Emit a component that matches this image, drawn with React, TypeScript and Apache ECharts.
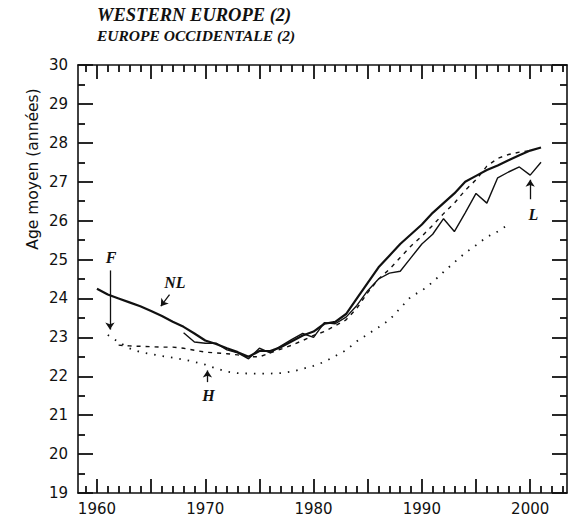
import React, { useEffect, useRef } from "react";
import * as echarts from "echarts";

const titleLines = ["WESTERN EUROPE (2)", "EUROPE OCCIDENTALE (2)"];
const yAxisTitle = "Age moyen (années)";

const xLabelYears = [1960, 1970, 1980, 1990, 2000];
const xMajorTickYears = [1960, 1965, 1970, 1975, 1980, 1985, 1990, 1995, 2000];
const xMinorTickYears = [
  1959, 1961, 1962, 1963, 1964, 1966, 1967, 1968, 1969, 1971, 1972, 1973, 1974, 1976, 1977, 1978,
  1979, 1981, 1982, 1983, 1984, 1986, 1987, 1988, 1989, 1991, 1992, 1993, 1994, 1996, 1997, 1998,
  1999, 2001, 2002, 2003,
];

// NL (solid, thick)
const nlYears = [
  1960, 1961, 1962, 1963, 1964, 1965, 1966, 1967, 1968, 1969, 1970, 1971, 1972, 1973, 1974, 1975,
  1976, 1977, 1978, 1979, 1980, 1981, 1982, 1983, 1984, 1985, 1986, 1987, 1988, 1989, 1990, 1991,
  1992, 1993, 1994, 1995, 1996, 1997, 1998, 1999, 2000, 2001,
];
const nlValues = [
  24.25, 24.1, 24.0, 23.9, 23.8, 23.68, 23.55, 23.4, 23.27, 23.1,
  22.92, 22.83, 22.72, 22.62, 22.5, 22.65, 22.65, 22.75, 22.9, 23.05,
  23.15, 23.35, 23.4, 23.6, 24.0, 24.4, 24.8, 25.1, 25.4, 25.65,
  25.9, 26.2, 26.45, 26.7, 27.0, 27.15, 27.3, 27.42, 27.55, 27.68,
  27.8, 27.88,
];

// L (solid, thin)
const lYears = [
  1968, 1969, 1970, 1971, 1972, 1973, 1974, 1975, 1976, 1977, 1978, 1979, 1980, 1981, 1982, 1983,
  1984, 1985, 1986, 1987, 1988, 1989, 1990, 1991, 1992, 1993, 1994, 1995, 1996, 1997, 1998, 1999,
  2000, 2001,
];
const lValues = [
  23.12, 22.88,
  22.85, 22.85, 22.68, 22.6, 22.45, 22.72, 22.6, 22.78, 22.95, 23.1,
  23.0, 23.38, 23.35, 23.52, 23.82, 24.2, 24.5, 24.65, 24.7, 25.05,
  25.4, 25.65, 26.05, 25.72, 26.2, 26.7, 26.45, 27.1, 27.25, 27.38,
  27.17, 27.5,
];

// dashed series
const dYears = [
  1962, 1963, 1964, 1965, 1966, 1967, 1968, 1969, 1970, 1971, 1972, 1973, 1974, 1975, 1976, 1977,
  1978, 1979, 1980, 1981, 1982, 1983, 1984, 1985, 1986, 1987, 1988, 1989, 1990, 1991, 1992, 1993,
  1994, 1995, 1996, 1997, 1998, 1999, 2000,
];
const dValues = [
  22.8, 22.78, 22.77, 22.76, 22.75, 22.75, 22.72, 22.67,
  22.62, 22.6, 22.58, 22.55, 22.5, 22.5, 22.6, 22.7, 22.8, 22.92,
  23.05, 23.15, 23.3, 23.45, 23.75, 24.15, 24.5, 24.75, 25.05, 25.35,
  25.6, 25.88, 26.18, 26.45, 26.78, 27.05, 27.4, 27.6, 27.7, 27.76,
  27.8,
];

// F (dotted)
const fYears = [
  1961, 1962, 1963, 1964, 1965, 1966, 1967, 1968, 1969, 1970, 1971, 1972, 1973, 1974, 1975, 1976,
  1977, 1978, 1979, 1980, 1981, 1982, 1983, 1984, 1985, 1986, 1987, 1988, 1989, 1990, 1991, 1992,
  1993, 1994, 1995, 1996, 1997, 1998,
];
const fValues = [
  23.06, 22.88, 22.72, 22.62, 22.57, 22.52, 22.48, 22.43, 22.37,
  22.3, 22.2, 22.12, 22.08, 22.07, 22.07, 22.07, 22.08, 22.12, 22.19,
  22.27, 22.37, 22.52, 22.67, 22.9, 23.08, 23.26, 23.45, 23.75, 24.05,
  24.2, 24.42, 24.68, 24.93, 25.17, 25.37, 25.58, 25.72, 25.9,
];

// annotation labels and arrows (data coordinates)
const annoLabels = [
  { name: "F", at: [1961.3, 25.05] },
  { name: "NL", at: [1967.2, 24.42] },
  { name: "H", at: [1970.3, 21.5] },
  { name: "L", at: [2000.3, 26.15] },
];
const annoArrows = [
  { from: [1961.2, 24.72], to: [1961.2, 23.2] },
  { from: [1966.7, 24.1], to: [1965.9, 23.8] },
  { from: [1970.2, 21.85], to: [1970.2, 22.15] },
  { from: [2000.0, 26.55], to: [2000.0, 27.05] },
];

const toPairs = (xs: number[], ys: number[]) => xs.map((x, i) => [x, ys[i]]);

const AXIS_FONT = "DejaVu Sans";
const SERIF = "Liberation Serif";
const X_MIN = 1958.25;
const X_MAX = 2003.4;
const Y_MIN = 19;
const Y_MAX = 30;
const BLACK = "#111";
const GRID = { left: 78, right: 8, top: 65, bottom: 28 };

export default function App() {
  const mainRef = useRef<HTMLDivElement>(null);
  const tickRef = useRef<HTMLDivElement>(null);
  useEffect(() => {
    if (!mainRef.current || !tickRef.current) return;
    const chart = echarts.init(mainRef.current, null, { renderer: "svg" });
    const tickChart = echarts.init(tickRef.current, null, { renderer: "svg" });
    const axisLine = { show: true, lineStyle: { color: BLACK, width: 1.6 } };

    const xAxisCommon = {
      type: "value",
      min: X_MIN,
      max: X_MAX,
      axisLine,
      axisTick: { show: false },
      splitLine: { show: false },
    };
    const yAxisCommon = {
      type: "value",
      min: Y_MIN,
      max: Y_MAX,
      interval: 1,
      axisLine,
      axisTick: { show: false },
      splitLine: { show: false },
    };

    chart.setOption({
      animation: false,
      backgroundColor: "#fff",
      grid: GRID,
      xAxis: [
        {
          ...xAxisCommon,
          position: "bottom",
          axisLabel: {
            show: true,
            customValues: xLabelYears,
            formatter: (v: number) => String(v),
            color: BLACK,
            fontSize: 15,
            fontFamily: AXIS_FONT,
            margin: 8,
          },
        },
        { ...xAxisCommon, position: "top", axisLabel: { show: false } },
      ],
      yAxis: [
        {
          ...yAxisCommon,
          position: "left",
          axisLabel: {
            show: true,
            color: BLACK,
            fontSize: 15,
            fontFamily: AXIS_FONT,
            margin: 10,
          },
        },
        { ...yAxisCommon, position: "right", axisLabel: { show: false } },
      ],
      graphic: [
        {
          type: "text",
          left: 97,
          top: 5,
          style: {
            text: titleLines[0],
            fontFamily: SERIF,
            fontStyle: "italic",
            fontWeight: "bold",
            fontSize: 18.5,
            fill: BLACK,
          },
        },
        {
          type: "text",
          left: 97,
          top: 27,
          style: {
            text: titleLines[1],
            fontFamily: SERIF,
            fontStyle: "italic",
            fontWeight: "bold",
            fontSize: 15.5,
            fill: BLACK,
          },
        },
        {
          type: "text",
          x: 33,
          y: 169,
          rotation: Math.PI / 2,
          style: {
            text: yAxisTitle,
            fontFamily: AXIS_FONT,
            fontSize: 15.5,
            fill: BLACK,
            align: "center",
            verticalAlign: "middle",
          },
        },
      ],
      series: [
        {
          name: "NL",
          type: "line",
          data: toPairs(nlYears, nlValues),
          showSymbol: false,
          symbol: "none",
          lineStyle: { color: BLACK, width: 2.2 },
          silent: true,
          z: 5,
          markLine: {
            silent: true,
            symbol: ["none", "arrow"],
            symbolSize: 7,
            label: { show: false },
            lineStyle: { color: BLACK, width: 1.3, type: "solid" },
            data: annoArrows.map((a) => [{ coord: a.from }, { coord: a.to }]),
          },
          markPoint: {
            silent: true,
            symbol: "circle",
            symbolSize: 0,
            itemStyle: { color: "transparent" },
            label: {
              show: true,
              position: "inside",
              formatter: "{b}",
              color: BLACK,
              fontFamily: SERIF,
              fontStyle: "italic",
              fontWeight: "bold",
              fontSize: 16,
            },
            data: annoLabels.map((a) => ({ name: a.name, coord: a.at })),
          },
        },
        {
          name: "L",
          type: "line",
          data: toPairs(lYears, lValues),
          showSymbol: false,
          symbol: "none",
          lineStyle: { color: BLACK, width: 1.4 },
          silent: true,
          z: 4,
        },
        {
          name: "dashed",
          type: "line",
          data: toPairs(dYears, dValues),
          showSymbol: false,
          symbol: "none",
          lineStyle: { color: BLACK, width: 1.4, type: [4, 5] },
          silent: true,
          z: 3,
        },
        {
          name: "F",
          type: "line",
          data: toPairs(fYears, fValues),
          showSymbol: false,
          symbol: "none",
          lineStyle: { color: BLACK, width: 1.8, type: [1.5, 7] },
          silent: true,
          z: 3,
        },
      ],
    });

    // Separate, transparent overlay chart that only draws the axis ticks
    const tickLine = { color: BLACK, width: 1.8 };
    const xTickAxis = (position: string, values: number[], length: number) => ({
      type: "value",
      position,
      min: X_MIN,
      max: X_MAX,
      axisLine: { show: false },
      axisTick: { show: true, inside: true, length, customValues: values, lineStyle: tickLine },
      axisLabel: { show: false },
      splitLine: { show: false },
    });
    const yTickAxis = (position: string) => ({
      type: "value",
      position,
      min: Y_MIN,
      max: Y_MAX,
      interval: 1,
      axisLine: { show: false },
      axisTick: { show: true, inside: true, length: 15, lineStyle: tickLine },
      minorTick: { show: true, splitNumber: 2, length: 7, lineStyle: tickLine },
      axisLabel: { show: false },
      splitLine: { show: false },
      minorSplitLine: { show: false },
    });
    tickChart.setOption({
      animation: false,
      backgroundColor: "transparent",
      grid: GRID,
      xAxis: [
        xTickAxis("bottom", xMajorTickYears, 14),
        xTickAxis("bottom", xMinorTickYears, 7),
        xTickAxis("top", xMajorTickYears, 14),
        xTickAxis("top", xMinorTickYears, 7),
      ],
      yAxis: [yTickAxis("left"), yTickAxis("right")],
      series: [],
    });

    return () => {
      chart.dispose();
      tickChart.dispose();
    };
  }, []);
  return (
    <div style={{ position: "absolute", left: 0, top: 0, width: 575, height: 521 }}>
      <div
        ref={mainRef}
        style={{ position: "absolute", left: 0, top: 0, width: 575, height: 521 }}
      />
      <div
        ref={tickRef}
        style={{
          position: "absolute",
          left: 0,
          top: 0,
          width: 575,
          height: 521,
          pointerEvents: "none",
        }}
      />
    </div>
  );
}
